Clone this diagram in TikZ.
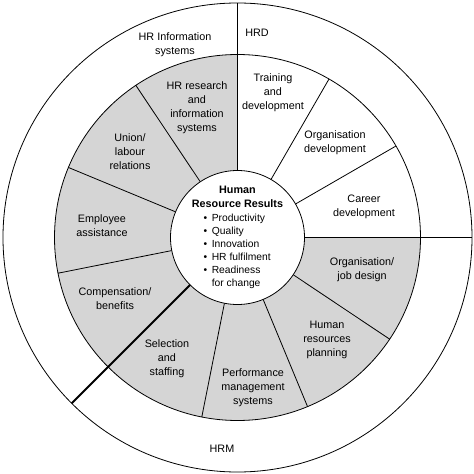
\documentclass[tikz,border=0pt]{standalone}
\usepackage{fontspec}
\setmainfont{Liberation Sans}
\definecolor{ringgray}{RGB}{213,213,213}
\begin{document}
\begin{tikzpicture}[x=1pt,y=1pt,
  thinline/.style={line width=0.8pt},
  thickline/.style={line width=1.9pt},
  lbl/.style={align=center, inner sep=0pt, font=\fontsize{10.8}{14}\selectfont},
  ctr/.style={align=center, inner sep=0pt, font=\fontsize{10.8}{14}\selectfont\bfseries},
  lst/.style={inner sep=0pt, font=\fontsize{10.3}{13}\selectfont}]
\useasboundingbox (-237.5,-236.5) rectangle (236.5,237.5);
\coordinate (c) at (0,0);
% shaded ring
\fill[ringgray] (0:183) arc[start angle=0,end angle=-270,radius=183]
  -- (90:67) arc[start angle=90,end angle=360,radius=67] -- cycle;
% circles
\draw[thinline] (c) circle[radius=234.5];
\draw[thinline] (c) circle[radius=183];
% thin dividers
\foreach \a in {30,60,123.75,157.5,191.25,258.75,292.5,326.25}
  \draw[thinline] (\a:67) -- (\a:183);
% thick dividers
\foreach \a in {0,90,225}
  \draw[thickline] (\a:67) -- (\a:234.5);
% centre
\draw[thinline, fill=white] (c) circle[radius=67];
% outer labels
\node[lbl] (hris) at (-62.5,193) {HR Information\\systems};
\node[lbl] (hrd) at (19.5,204.5) {HRD};
\node[lbl] (hrm) at (-15.5,-211.5) {HRM};
% ring labels
\node[lbl] (research) at (-40.5,129.5) {HR research\\and\\information\\systems};
\node[lbl] (union) at (-107.5,85.5) {Union/\\labour\\relations};
\node[lbl] (employee) at (-135.5,11.5) {Employee\\assistance};
\node[lbl] (comp) at (-122.5,-61.5) {Compensation/\\benefits};
\node[lbl] (selection) at (-70.5,-121.5) {Selection\\and\\staffing};
\node[lbl] (perf) at (15.5,-150.5) {Performance\\management\\systems};
\node[lbl] (hrp) at (89.5,-102.5) {Human\\resources\\planning};
\node[lbl] (orgjob) at (124.5,-32.5) {Organisation/\\job design};
\node[lbl] (career) at (126.5,30.5) {Career\\development};
\node[lbl] (orgdev) at (97.5,94.5) {Organisation\\development};
\node[lbl] (training) at (35.5,144.5) {Training\\and\\development};
% centre text
\node[ctr] (title) at (0,40.5) {Human\\Resource Results};
\node[lst, anchor=west] (list) at (-34,-13.5) {%
  \begin{tabular}{@{}l@{\hspace{4.5pt}}l@{}}
  \textbullet & Productivity\\
  \textbullet & Quality\\
  \textbullet & Innovation\\
  \textbullet & HR fulfilment\\
  \textbullet & Readiness\\
   & for change
  \end{tabular}};
\end{tikzpicture}
\end{document}
